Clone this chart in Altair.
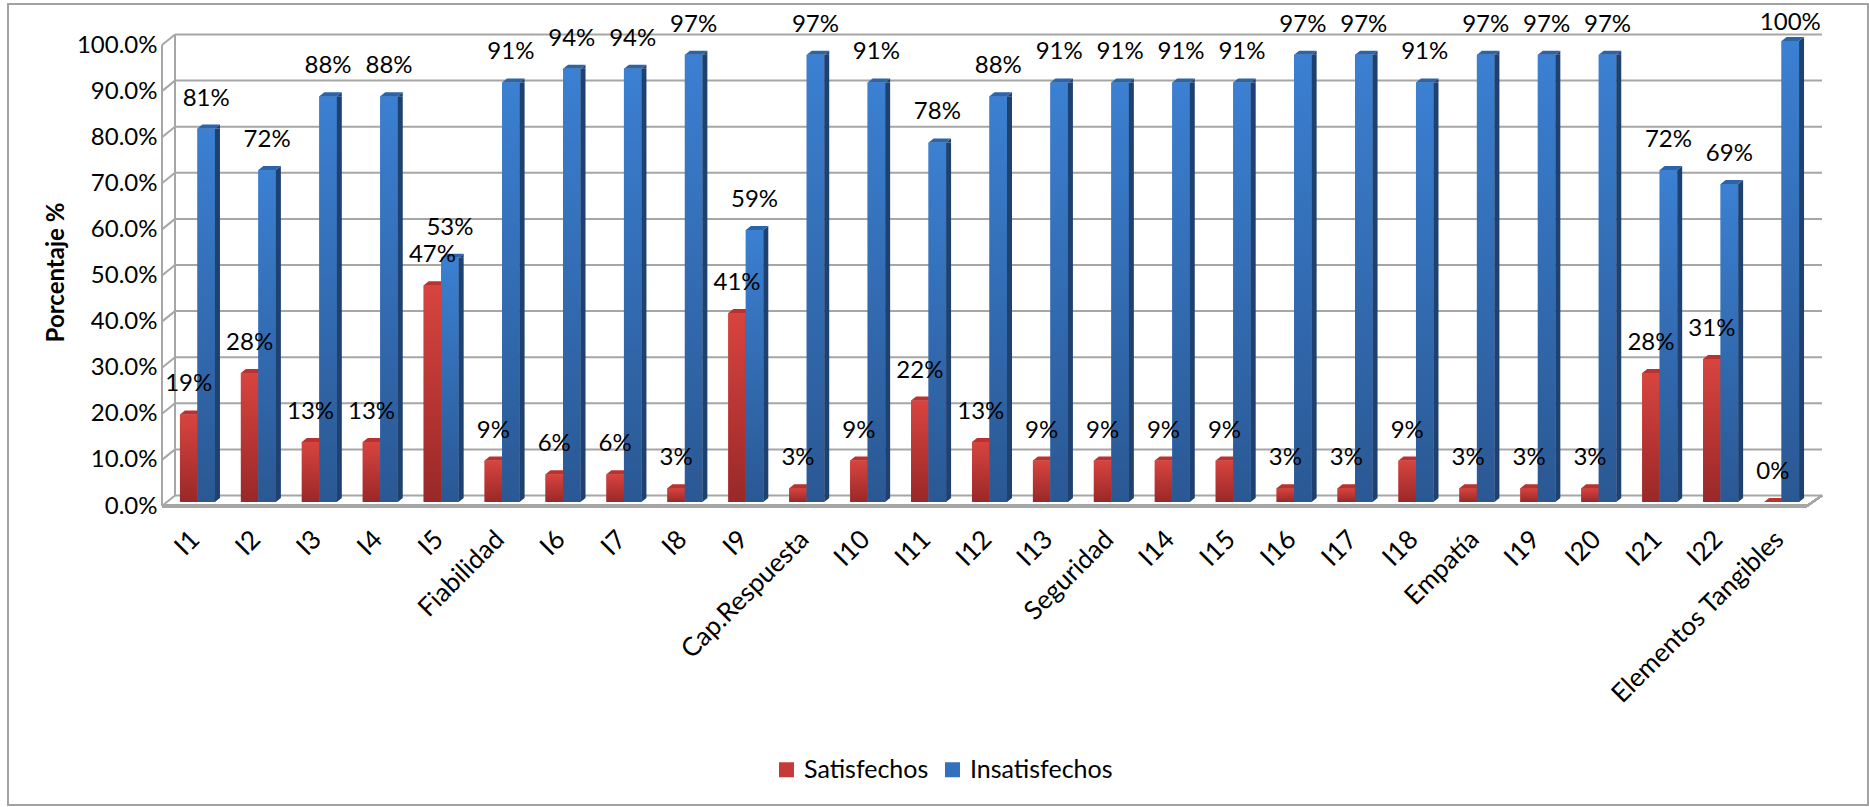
import altair as alt
import pandas as pd

# ---- data -------------------------------------------------------------
categories = ["I1", "I2", "I3", "I4", "I5", "Fiabilidad", "I6", "I7", "I8", "I9",
              "Cap.Respuesta", "I10", "I11", "I12", "I13", "Seguridad", "I14", "I15",
              "I16", "I17", "I18", "Empatía", "I19", "I20", "I21", "I22",
              "Elementos Tangibles"]
satisfechos = [19, 28, 13, 13, 47, 9, 6, 6, 3, 41, 3, 9, 22, 13, 9, 9, 9, 9,
               3, 3, 9, 3, 3, 3, 28, 31, 0]
insatisfechos = [81, 72, 88, 88, 53, 91, 94, 94, 97, 59, 97, 91, 78, 88, 91, 91, 91, 91,
                 97, 97, 91, 97, 97, 97, 72, 69, 100]
series = ["Satisfechos", "Insatisfechos"]
y_ticks = [0, 10, 20, 30, 40, 50, 60, 70, 80, 90, 100]

rows = []
for cat, s, i in zip(categories, satisfechos, insatisfechos):
    rows.append({"categoria": cat, "serie": "Satisfechos", "valor": s})
    rows.append({"categoria": cat, "serie": "Insatisfechos", "valor": i})
df = pd.DataFrame(rows)
df["etiqueta"] = df["valor"].astype(str) + "%"
grid_df = pd.DataFrame({"v": y_ticks})

# ---- layout / style ---------------------------------------------------
W, H = 1645, 461          # plot area
DEPTH_X, DEPTH_Y = 13, 6.5  # pseudo-3D wall depth
FRONT_Y = 4
FONT = "Lato"
GRID = "#a6a6a6"
BAR_W = 17.5

style = {
    "Satisfechos": dict(center=-3.75, flat="#c63b39",
                        grad=("#d8443f", "#992828"), top="#b8322f", side="#7c1f1f"),
    "Insatisfechos": dict(center=13.75, flat="#3371c0",
                          grad=("#3b80d2", "#2a5893"), top="#2c64a8", side="#1f416f"),
}

y_scale = alt.Scale(domain=[0, 100], nice=False, zero=True)
x_scale = alt.Scale(domain=categories, paddingInner=0, paddingOuter=0)

x_axis = alt.Axis(title=None, labelAngle=-45, labelAlign="right", labelBaseline="middle",
                  labelPadding=33, labelOffset=3, ticks=False, domain=False, grid=False,
                  labelFont=FONT, labelFontSize=26, labelColor="black",
                  labelOverlap=False, labelLimit=400)

y_axis = alt.Axis(title="Porcentaje %", values=y_ticks,
                  labelExpr="format(datum.value, '.1f') + '%'",
                  ticks=False, domain=False, grid=False, labelPadding=5,
                  labelOffset=4, labelFont=FONT, labelFontSize=24,
                  labelColor="black", titleFont=FONT, titleFontSize=24,
                  titleFontWeight="bold", titleColor="black",
                  titleX=-106, titleY=231, titleBaseline="middle")


def xenc():
    return alt.X("categoria:N", sort=categories, scale=x_scale, axis=x_axis)


def yenc(field):
    return alt.Y(field, scale=y_scale, axis=y_axis)


def ydat(v):
    return alt.YDatum(v, scale=y_scale, axis=y_axis)


# ---- walls and gridlines ------------------------------------------------
back_grid = alt.Chart(grid_df).mark_rule(color=GRID, strokeWidth=2, yOffset=-DEPTH_Y).encode(
    y=yenc("v:Q"), x=alt.value(DEPTH_X), x2=alt.value(W + 15))
side_grid = alt.Chart(grid_df).mark_rule(color=GRID, strokeWidth=2,
                                         yOffset=FRONT_Y, y2Offset=-DEPTH_Y).encode(
    y=yenc("v:Q"), y2="v:Q", x=alt.value(0), x2=alt.value(DEPTH_X))
wall_front = alt.Chart(grid_df).mark_rule(color=GRID, strokeWidth=2,
                                          yOffset=FRONT_Y, y2Offset=FRONT_Y).encode(
    x=alt.value(0), y=ydat(0), y2=alt.datum(100))
wall_back = alt.Chart(grid_df).mark_rule(color=GRID, strokeWidth=2,
                                         yOffset=-DEPTH_Y, y2Offset=-DEPTH_Y).encode(
    x=alt.value(DEPTH_X), y=ydat(0), y2=alt.datum(100))
floor_front = alt.Chart(grid_df).mark_rule(color=GRID, strokeWidth=3, yOffset=FRONT_Y).encode(
    x=alt.value(0), x2=alt.value(W), y=ydat(0))
floor_side = alt.Chart(grid_df).mark_rule(color=GRID, strokeWidth=2,
                                          yOffset=FRONT_Y, y2Offset=-DEPTH_Y).encode(
    x=alt.value(W), x2=alt.value(W + 15), y=ydat(0), y2=alt.datum(0))

# ---- bars -----------------------------------------------------------------
TOP_FACE = "M -8.75 0 L 8.75 0 L 13.75 -4 L -3.75 -4 Z"
SIDE_TOP = "M 8.75 0 L 13.75 -4 L 13.75 0 Z"
SIDE_BOTTOM = "M 8.75 -4 L 13.75 -4 L 8.75 0 Z"

legend = alt.Legend(orient="none", legendX=612, legendY=716,
                    direction="horizontal", title=None,
                    symbolType="square", symbolSize=225,
                    symbolStrokeWidth=0, labelFont=FONT,
                    labelFontSize=25, labelColor="black",
                    columnPadding=11, labelOffset=5, padding=0)

bar_layers = []
for name in series:
    st = style[name]
    base = alt.Chart(df).transform_filter(alt.datum.serie == name)
    c = st["center"]
    flat = base.mark_bar(width=BAR_W, xOffset=c).encode(
        x=xenc(), y=yenc("valor:Q"),
        color=alt.Color("serie:N", scale=alt.Scale(domain=series,
                                                   range=[style[s]["flat"] for s in series]),
                        legend=legend),
    )
    grad = base.mark_bar(
        width=BAR_W, xOffset=c,
        color=alt.Gradient(gradient="linear", x1=0, x2=0, y1=0, y2=1,
                           stops=[alt.GradientStop(color=st["grad"][0], offset=0),
                                  alt.GradientStop(color=st["grad"][1], offset=1)]),
    ).encode(x=xenc(), y=yenc("valor:Q"))
    side = base.mark_bar(width=5, xOffset=c + 11.25, y2Offset=-4, color=st["side"]).encode(
        x=xenc(), y=yenc("valor:Q"), y2=alt.datum(0))
    side_top = base.mark_point(shape=SIDE_TOP, size=4, filled=True, opacity=1,
                               strokeWidth=0, color=st["side"], xOffset=c).encode(
        x=xenc(), y=yenc("valor:Q"))
    side_bottom = base.mark_point(shape=SIDE_BOTTOM, size=4, filled=True, opacity=1,
                                  strokeWidth=0, color=st["side"], xOffset=c).encode(
        x=xenc(), y=ydat(0))
    top = base.mark_point(shape=TOP_FACE, size=4, filled=True, opacity=1,
                          strokeWidth=0, color=st["top"], xOffset=c).encode(
        x=xenc(), y=yenc("valor:Q"))
    bar_layers += [flat, grad, side, side_top, side_bottom, top]

# value labels sit above each bar, kept inside the chart area at the top
labels = []
for name in series:
    labels.append(
        alt.Chart(df).transform_filter(alt.datum.serie == name)
        .transform_calculate(pos="min(datum.valor, 97.5)")
        .mark_text(
            dy=-30, xOffset=style[name]["center"], font=FONT, fontSize=24,
            color="black", baseline="middle", align="center",
        ).encode(x=xenc(), y=yenc("pos:Q"), text="etiqueta:N")
    )

border = alt.Chart(grid_df).mark_rect(fillOpacity=0, stroke="#a3a3a3", strokeWidth=1.5).encode(
    x=alt.value(-154), x2=alt.value(1706), y=alt.value(-37), y2=alt.value(764))

chart = alt.layer(
    back_grid, side_grid, wall_front, wall_back, floor_front, floor_side,
    *bar_layers, *labels, border,
).properties(
    width=W, height=H,
    autosize=alt.AutoSizeParams(type="none"),
    padding={"left": 162, "top": 41, "right": 62, "bottom": 305},
    background="white",
).configure_view(stroke=None)

chart.save("out.html", embed_options={"renderer": "svg", "actions": False})
